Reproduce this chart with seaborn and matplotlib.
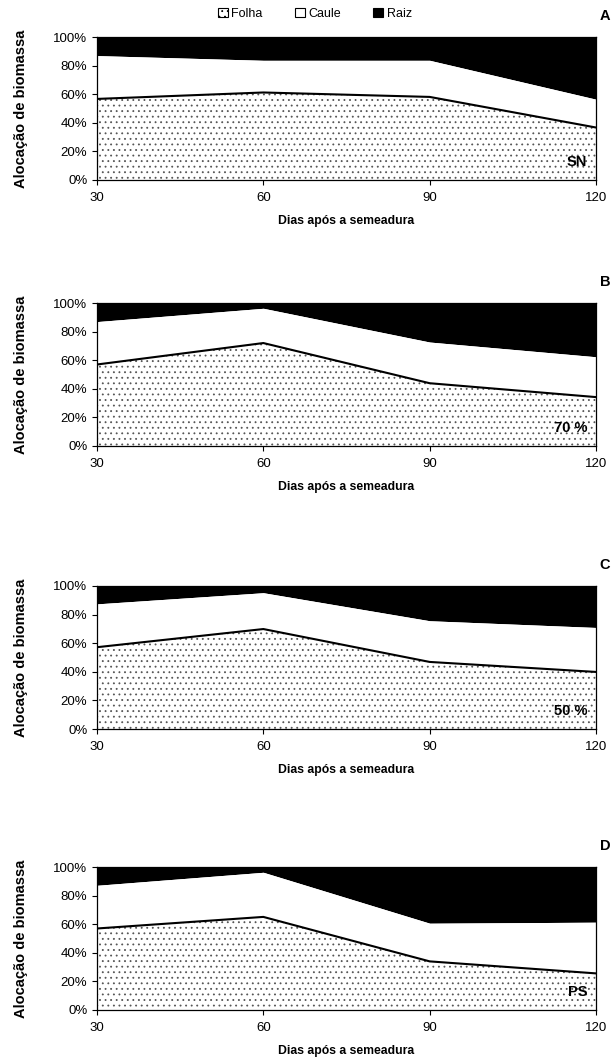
import matplotlib
matplotlib.use("Agg")
import matplotlib.pyplot as plt
from matplotlib.patches import Patch
from matplotlib.ticker import PercentFormatter
import pandas as pd
import seaborn as sns

# days after sowing
dias = [30, 60, 90, 120]

# leaf share (%) and leaf+stem cumulative share (%) per treatment
folha_sn = [56.7, 61.2, 58.1, 36.7]
caule_top_sn = [87.0, 83.7, 83.7, 56.5]

folha_70 = [57.0, 72.0, 43.9, 34.2]
caule_top_70 = [87.0, 96.3, 72.7, 62.4]

folha_50 = [57.2, 69.9, 46.9, 39.9]
caule_top_50 = [87.5, 95.3, 75.7, 71.0]

folha_ps = [57.0, 65.1, 34.0, 25.6]
caule_top_ps = [87.2, 96.3, 60.7, 61.4]

letras = ["A", "B", "C", "D"]
tratamentos = ["SN", "70 %", "50 %", "PS"]
folhas = [folha_sn, folha_70, folha_50, folha_ps]
caules = [caule_top_sn, caule_top_70, caule_top_50, caule_top_ps]

sns.set_style("ticks")
plt.rcParams["font.family"] = ["Liberation Sans", "DejaVu Sans"]
plt.rcParams["hatch.linewidth"] = 0.6
plt.rcParams["hatch.color"] = "#555555"
for k in ["text.color", "axes.labelcolor", "xtick.color", "ytick.color", "axes.edgecolor"]:
    plt.rcParams[k] = "black"

fig = plt.figure(figsize=(6.14, 10.59), dpi=100)
H = 1059.0
tops = [37, 303, 586, 867]
ax_h = 143 / H
left, width = 97 / 614, 499 / 614

for i in range(4):
    ax = fig.add_axes([left, 1 - tops[i] / H - ax_h, width, ax_h])
    df = pd.DataFrame({"dias": dias, "folha": folhas[i], "caule": caules[i]})

    ax.fill_between(df["dias"], df["caule"], 100, facecolor="black", linewidth=0)
    ax.fill_between(df["dias"], df["folha"], df["caule"], facecolor="white", linewidth=0)
    ax.fill_between(df["dias"], 0, df["folha"], facecolor="white", hatch="...",
                    edgecolor="#555555", linewidth=0)
    sns.lineplot(data=df, x="dias", y="folha", ax=ax, color="black", linewidth=1.5)

    ax.set_xlim(30, 120)
    ax.set_ylim(0, 100)
    ax.set_xticks(dias)
    ax.set_yticks([0, 20, 40, 60, 80, 100])
    ax.yaxis.set_major_formatter(PercentFormatter(decimals=0))
    ax.tick_params(axis="both", labelsize=9.5, length=3.5, width=0.8, color="black")
    ax.tick_params(axis="x", pad=5)
    for s in ax.spines.values():
        s.set_linewidth(0.9)

    ax.set_xlabel("Dias após a semeadura", fontsize=8.8, fontweight="bold", labelpad=8)
    ax.set_ylabel("Alocação de biomassa", fontsize=10.5, fontweight="bold")
    ax.yaxis.set_label_coords(-0.138, 0.5)

    ax.text(0.982, 0.125, tratamentos[i], transform=ax.transAxes, ha="right",
            va="center", fontsize=10.5, fontweight="bold")
    ax.text(1.018, 1 + 21 / 143, letras[i], transform=ax.transAxes, ha="center",
            va="center", fontsize=10.5, fontweight="bold")

handles = [
    Patch(facecolor="white", edgecolor="black", hatch="...", linewidth=0.8, label="Folha"),
    Patch(facecolor="white", edgecolor="black", linewidth=0.8, label="Caule"),
    Patch(facecolor="black", edgecolor="black", linewidth=0.8, label="Raiz"),
]
fig.legend(handles=handles, loc="center", bbox_to_anchor=(0.513, 1 - 14 / H), ncol=3,
           frameon=False, fontsize=9, handlelength=0.75, handleheight=0.75,
           handletextpad=0.3, columnspacing=2.6)

fig.savefig("out.png", dpi=100)
